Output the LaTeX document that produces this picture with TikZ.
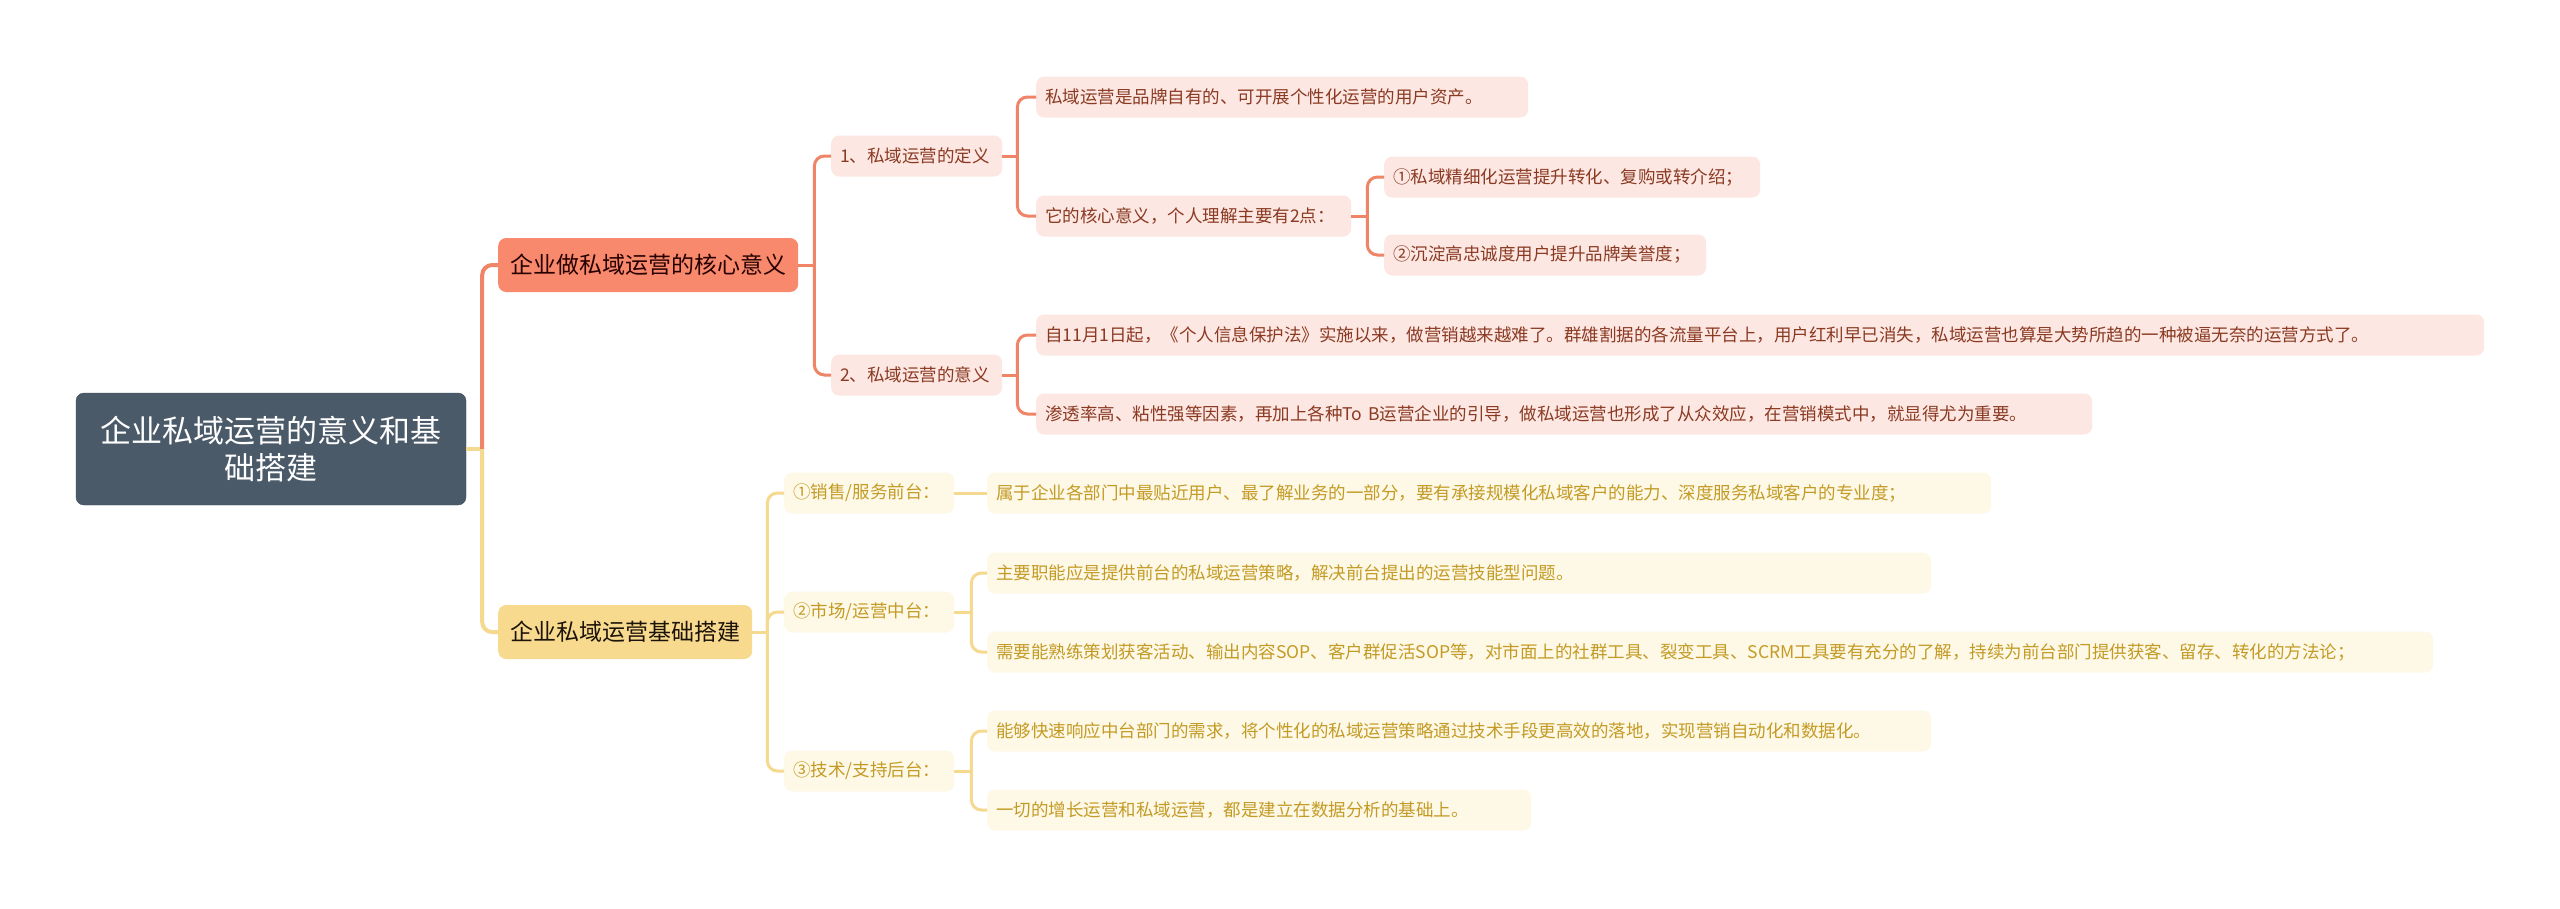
\documentclass[tikz,border=0pt]{standalone}
\usepackage{fontspec}
\setmainfont{Noto Sans CJK SC}

\definecolor{rootfill}{HTML}{4B5A69}
\definecolor{corefill}{HTML}{F8896C}
\definecolor{coreedge}{HTML}{EF8467}
\definecolor{corelight}{HTML}{FDE7E2}
\definecolor{coretext}{HTML}{8A3A22}
\definecolor{basefill}{HTML}{F7DA8E}
\definecolor{baseedge}{HTML}{F4D98F}
\definecolor{baselight}{HTML}{FEF8E7}
\definecolor{basetext}{HTML}{C39B24}

\begin{document}
\begin{tikzpicture}[x=1pt, y=-1pt,
    rootbox/.style={fill=rootfill, draw=rootfill!85!black, rounded corners=8pt, text=white,
        minimum width=390pt, minimum height=112pt, align=center,
        font=\fontsize{31}{37}\selectfont},
    corebox/.style={fill=corefill, rounded corners=8pt, text=black!85!red, anchor=west,
        minimum height=54pt, inner xsep=12pt, font=\fontsize{23}{27}\selectfont},
    basebox/.style={corebox, fill=basefill, text=black!85!brown},
    coreleaf/.style={fill=corelight, rounded corners=8pt, text=coretext, anchor=west,
        minimum height=41pt, inner xsep=9pt, inner ysep=0pt, align=left,
        font=\fontsize{17.5}{21}\selectfont},
    baseleaf/.style={coreleaf, fill=baselight, text=basetext},
    corelink/.style={draw=coreedge, line width=3pt},
    baselink/.style={draw=baseedge, line width=3pt}]

    \path[use as bounding box, fill=white] (0,0) rectangle (2560,908);

    % centre topic
    \node[rootbox] (root) at (271,449) {企业私域运营的意义和基\\础搭建};

    % first branch
    \node[corebox] (core) at (498,265) {企业做私域运营的核心意义};
    \node[coreleaf, text width=153pt] (def) at (831,156) {1、私域运营的定义};
    \node[coreleaf, text width=153pt] (mean) at (831,375) {2、私域运营的意义};
    \node[coreleaf, text width=474pt] (asset) at (1036,97) {私域运营是品牌自有的、可开展个性化运营的用户资产。};
    \node[coreleaf, text width=297pt] (two) at (1036,216) {它的核心意义，个人理解主要有2点：};
    \node[coreleaf, text width=358pt] (conv) at (1384,177) {①私域精细化运营提升转化、复购或转介绍；};
    \node[coreleaf, text width=304pt] (loyal) at (1384,255) {②沉淀高忠诚度用户提升品牌美誉度；};
    \node[coreleaf, text width=1430pt] (law) at (1036,335) {自11月1日起，《个人信息保护法》实施以来，做营销越来越难了。群雄割据的各流量平台上，用户红利早已消失，私域运营也算是大势所趋的一种被逼无奈的运营方式了。};
    \node[coreleaf, text width=1038pt] (herd) at (1036,414) {渗透率高、粘性强等因素，再加上各种To B运营企业的引导，做私域运营也形成了从众效应，在营销模式中，就显得尤为重要。};

    % second branch
    \node[basebox] (base) at (498,632) {企业私域运营基础搭建};
    \node[baseleaf, text width=152pt] (front) at (784,493) {①销售/服务前台：};
    \node[baseleaf, text width=152pt] (middle) at (784,612) {②市场/运营中台：};
    \node[baseleaf, text width=152pt] (back) at (784,771) {③技术/支持后台：};
    \node[baseleaf, text width=986pt] (near) at (987,493) {属于企业各部门中最贴近用户、最了解业务的一部分，要有承接规模化私域客户的能力、深度服务私域客户的专业度；};
    \node[baseleaf, text width=926pt] (plan) at (987,573) {主要职能应是提供前台的私域运营策略，解决前台提出的运营技能型问题。};
    \node[baseleaf, text width=1428pt] (tools) at (987,652) {需要能熟练策划获客活动、输出内容SOP、客户群促活SOP等，对市面上的社群工具、裂变工具、SCRM工具要有充分的了解，持续为前台部门提供获客、留存、转化的方法论；};
    \node[baseleaf, text width=926pt] (auto) at (987,731) {能够快速响应中台部门的需求，将个性化的私域运营策略通过技术手段更高效的落地，实现营销自动化和数据化。};
    \node[baseleaf, text width=526pt] (data) at (987,810) {一切的增长运营和私域运营，都是建立在数据分析的基础上。};

    % links from the centre
    \coordinate (rj) at ([xshift=16pt]root.east);
    \draw[baselink, line width=4pt] (root.east) -- (rj);
    \draw[corelink, line width=4pt, rounded corners=10pt] (rj) |- (core.west);
    \draw[baselink, line width=4pt, rounded corners=10pt] (rj) |- (base.west);

    % links in the first branch
    \coordinate (cj) at ([xshift=16pt]core.east);
    \draw[corelink] (core.east) -- (cj);
    \draw[corelink, rounded corners=10pt] (cj) |- (def.west);
    \draw[corelink, rounded corners=10pt] (cj) |- (mean.west);
    \coordinate (dj) at ([xshift=15pt]def.east);
    \draw[corelink] (def.east) -- (dj);
    \draw[corelink, rounded corners=10pt] (dj) |- (asset.west);
    \draw[corelink, rounded corners=10pt] (dj) |- (two.west);
    \coordinate (tj) at ([xshift=16pt]two.east);
    \draw[corelink] (two.east) -- (tj);
    \draw[corelink, rounded corners=10pt] (tj) |- (conv.west);
    \draw[corelink, rounded corners=10pt] (tj) |- (loyal.west);
    \coordinate (mj) at ([xshift=15pt]mean.east);
    \draw[corelink] (mean.east) -- (mj);
    \draw[corelink, rounded corners=10pt] (mj) |- (law.west);
    \draw[corelink, rounded corners=10pt] (mj) |- (herd.west);

    % links in the second branch
    \coordinate (bj) at ([xshift=15pt]base.east);
    \draw[baselink] (base.east) -- (bj);
    \draw[baselink, rounded corners=10pt] (bj) |- (front.west);
    \draw[baselink, rounded corners=10pt] (bj) |- (middle.west);
    \draw[baselink, rounded corners=10pt] (bj) |- (back.west);
    \draw[baselink] (front.east) -- (near.west);
    \coordinate (zj) at ([xshift=17pt]middle.east);
    \draw[baselink] (middle.east) -- (zj);
    \draw[baselink, rounded corners=10pt] (zj) |- (plan.west);
    \draw[baselink, rounded corners=10pt] (zj) |- (tools.west);
    \coordinate (hj) at ([xshift=17pt]back.east);
    \draw[baselink] (back.east) -- (hj);
    \draw[baselink, rounded corners=10pt] (hj) |- (auto.west);
    \draw[baselink, rounded corners=10pt] (hj) |- (data.west);
\end{tikzpicture}
\end{document}
